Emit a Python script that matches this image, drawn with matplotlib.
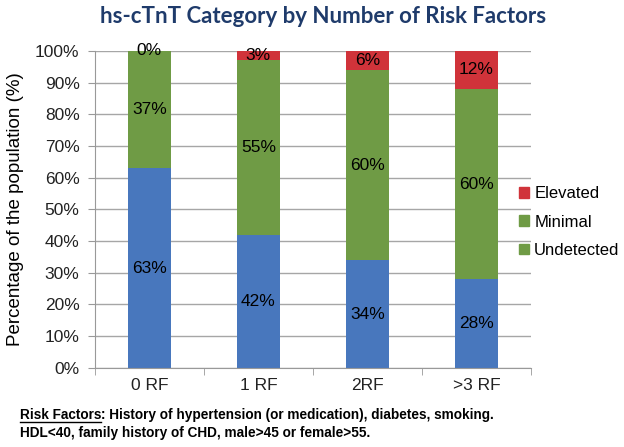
import numpy as np
import matplotlib
matplotlib.use("Agg")
import matplotlib.pyplot as plt
from matplotlib.patches import Patch

categories = ["0 RF", "1 RF", "2RF", ">3 RF"]
undetected = [63, 42, 34, 28]
minimal = [37, 55, 60, 60]
elevated = [0, 3, 6, 12]

c_blue = "#4877BD"
c_green = "#6F9B45"
c_red = "#D0333A"

plt.rcParams["font.family"] = ["Liberation Sans", "DejaVu Sans"]

fig = plt.figure(figsize=(6.24, 4.47), dpi=100)
ax = fig.add_axes([0.152, 0.177, 0.699, 0.709])

x = np.arange(len(categories))
w = 0.39
u = np.array(undetected)
m = np.array(minimal)
e = np.array(elevated)
ax.bar(x, u, w, color=c_blue, zorder=2)
ax.bar(x, m, w, bottom=u, color=c_green, zorder=2)
ax.bar(x, e, w, bottom=u + m, color=c_red, zorder=2)

# centered value labels
for i in range(len(categories)):
    for bottom, val in [(0, u[i]), (u[i], m[i]), (u[i] + m[i], e[i])]:
        ax.text(x[i], bottom + val / 2, f"{val}%", ha="center", va="center",
                fontsize=12.5, color="black", zorder=3)

ax.set_xlim(-0.5, len(categories) - 0.5)
ax.set_ylim(0, 100)
ax.set_yticks(np.arange(0, 101, 10))
ax.set_yticklabels([f"{v}%" for v in range(0, 101, 10)], fontsize=12.5,
                   color="#222222")
ax.set_xticks(x)
ax.set_xticklabels(categories, fontsize=12.5, color="#222222")
ax.set_xticks(np.arange(-0.5, len(categories)), minor=True)
ax.tick_params(axis="x", which="major", length=0, pad=7)
ax.tick_params(axis="x", which="minor", length=5, color="#999999",
               direction="out")
ax.tick_params(axis="y", length=5, color="#999999", direction="out", pad=6)
ax.grid(axis="y", color="#A6A6A6", linewidth=1, zorder=1)
for s in ["top", "right"]:
    ax.spines[s].set_visible(False)
for s in ["left", "bottom"]:
    ax.spines[s].set_color("#999999")
ax.set_ylabel("Percentage of the population (%)", fontsize=13.5, labelpad=8)

handles = [Patch(color=c_red), Patch(color=c_green), Patch(color=c_green)]
fig.legend(handles, ["Elevated", "Minimal", "Undetected"], loc="center left",
           bbox_to_anchor=(0.808, 0.503), frameon=False, fontsize=12,
           handlelength=0.6, handleheight=0.6, handletextpad=0.3,
           labelspacing=0.8)

fig.text(0.517, 0.962, "hs-cTnT Category by Number of Risk Factors",
         ha="center", va="center", fontsize=16, fontweight="bold",
         color="#1F3B6B", family=["Lato", "DejaVu Sans"])

foot_font = ["Liberation Sans", "DejaVu Sans"]
fs = 9.8
t1 = fig.text(0.032, 1 - 419 / 447, "Risk Factors", fontsize=fs,
              fontweight="bold", family=foot_font, va="baseline")
fig.canvas.draw()
bb = t1.get_window_extent().transformed(fig.transFigure.inverted())
fig.add_artist(plt.Line2D([bb.x0, bb.x1], [1 - 422 / 447, 1 - 422 / 447],
                          transform=fig.transFigure, color="black",
                          linewidth=1))
fig.text(bb.x1, 1 - 419 / 447,
         ": History of hypertension (or medication), diabetes, smoking.",
         fontsize=fs, fontweight="bold", family=foot_font, va="baseline")
fig.text(0.032, 1 - 437 / 447,
         "HDL<40, family history of CHD, male>45 or female>55.",
         fontsize=fs, fontweight="bold", family=foot_font, va="baseline")

fig.savefig("out.png", dpi=100)
